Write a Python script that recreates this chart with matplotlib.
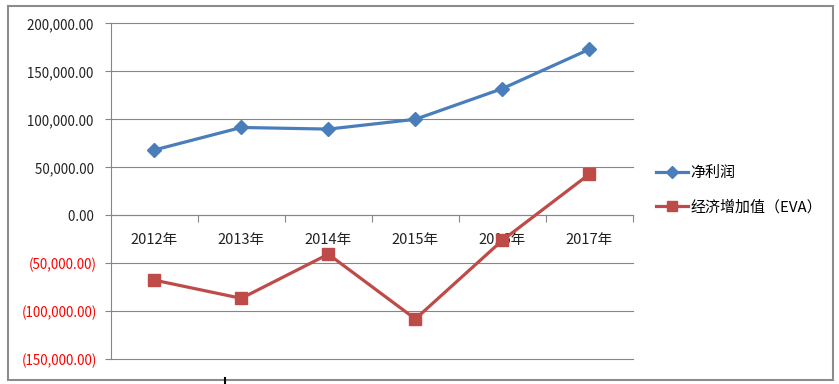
import matplotlib
matplotlib.use("Agg")
import matplotlib.pyplot as plt
from matplotlib.lines import Line2D
from matplotlib.patches import Rectangle
from matplotlib.ticker import FixedLocator, FuncFormatter

plt.rcParams['font.family'] = ['Noto Sans CJK SC', 'DejaVu Sans']

years = ["2012年", "2013年", "2014年", "2015年", "2016年", "2017年"]
net_profit = [68000, 91500, 89800, 100000, 132000, 173000]
eva = [-67500, -86500, -40500, -108000, -26000, 43000]
series_names = ["净利润", "经济增加值（EVA）"]

blue = "#4A7EBB"
red = "#BE4B48"
grid_c = "#868686"

fig = plt.figure(figsize=(8.39, 3.84), dpi=100)
ax = fig.add_axes([110.7 / 839, 1 - 359.3 / 384, (633 - 110.7) / 839, (359.3 - 23.3) / 384])

x = list(range(len(years)))
ax.plot(x, net_profit, color=blue, lw=2.3, marker="D", markersize=7,
        markerfacecolor=blue, markeredgecolor=blue, zorder=4)
ax.plot(x, eva, color=red, lw=2.3, marker="s", markersize=8.5,
        markerfacecolor=red, markeredgecolor=red, zorder=4)

ax.set_xlim(-0.5, len(years) - 0.5)
ax.set_ylim(-150000, 200000)
ax.set_yticks(range(-150000, 200001, 50000))


def fmt(v, pos):
    if v < 0:
        return "({:,.2f})".format(-v)
    return "{:,.2f} ".format(v)


ax.yaxis.set_major_formatter(FuncFormatter(fmt))
ax.tick_params(axis="y", length=4, width=0.8, color=grid_c, pad=6, labelsize=9.6,
               labelcolor="#222222")
for lab, v in zip(ax.get_yticklabels(), ax.get_yticks()):
    if v < 0:
        lab.set_color("#FF0000")

ax.grid(axis="y", color=grid_c, lw=0.8)
for gl in ax.get_ygridlines():
    gl.set_clip_on(False)
ax.set_axisbelow(True)

# x axis sits on zero
ax.spines["bottom"].set_position(("data", 0))
ax.spines["bottom"].set_color(grid_c)
ax.spines["left"].set_color(grid_c)
ax.spines["top"].set_visible(False)
ax.spines["right"].set_visible(False)
ax.xaxis.set_major_locator(FixedLocator([i + 0.5 for i in x]))
ax.xaxis.set_minor_locator(FixedLocator(x))
ax.set_xticklabels([], minor=False)
ax.set_xticklabels(years, minor=True)
ax.tick_params(axis="x", which="major", length=5, width=0.8, color=grid_c, direction="out")
ax.tick_params(axis="x", which="minor", length=0, pad=13, labelsize=10.5, labelcolor="#222222")

# legend
handles = [
    Line2D([], [], color=blue, lw=2.3, marker="D", markersize=6),
    Line2D([], [], color=red, lw=2.3, marker="s", markersize=7),
]
fig.legend(handles, series_names, loc="center left", bbox_to_anchor=(656 / 839, 1 - 190.5 / 384),
           frameon=False, fontsize=10.8, handlelength=2.1, handletextpad=0.2,
           labelspacing=1.3, borderaxespad=0, borderpad=0)

# outer frame
fig.patches.append(Rectangle((8, 4), 825, 374, transform=None, fill=False,
                             edgecolor="#8C8C8C", lw=1.5))
fig.lines.append(Line2D([225, 225], [0, 6], transform=None, color="black", lw=1.5))

fig.savefig("out.png", dpi=100)
